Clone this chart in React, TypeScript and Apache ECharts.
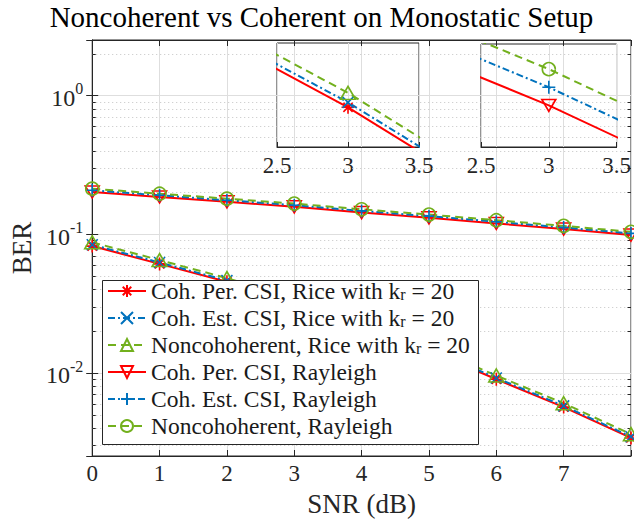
import React, { useEffect, useRef } from 'react';
import * as echarts from 'echarts';

// ---- data ----
const snr = [0, 1, 2, 3, 4, 5, 6, 7, 8];
const ricePerCSI = [0.0820, 0.0610, 0.0453, 0.0326, 0.0223, 0.0145, 0.00898, 0.00566, 0.00339];
const riceEstCSI = [0.0838, 0.0624, 0.0463, 0.0333, 0.0228, 0.0148, 0.00918, 0.00578, 0.00346];
const riceNoncoh = [0.0873, 0.0650, 0.0482, 0.0347, 0.0237, 0.0154, 0.00956, 0.00603, 0.00361];
const rayPerCSI = [0.2016, 0.1855, 0.1709, 0.1573, 0.1432, 0.1312, 0.1194, 0.1087, 0.0985];
const rayEstCSI = [0.2071, 0.1906, 0.1756, 0.1616, 0.1471, 0.1348, 0.1227, 0.1117, 0.1012];
const rayNoncoh = [0.2127, 0.1957, 0.1803, 0.1660, 0.1511, 0.1384, 0.1260, 0.1147, 0.1039];

const seriesNames = [
  'Coh. Per. CSI, Rice with k_r = 20',
  'Coh. Est. CSI, Rice with k_r = 20',
  'Noncohoherent, Rice with k_r = 20',
  'Coh. Per. CSI, Rayleigh',
  'Coh. Est. CSI, Rayleigh',
  'Noncohoherent, Rayleigh',
];
const titleText = 'Noncoherent vs Coherent on Monostatic Setup';
const xName = 'SNR (dB)';
const yName = 'BER';
const yMin = 0.002512; // 10^-2.6
const yMax = 2.512; // 10^0.4
const inset1Y = [0.02746, 0.04305];
const inset2Y = [0.1479, 0.1723];
const minorMultipliers = [2, 3, 4, 5, 6, 7, 8, 9];
const minorDecades = [-3, -2, -1, 0];

const FONT = 'Liberation Serif, Times New Roman, Tinos, DejaVu Serif, serif';
const AXIS = '#262626';
const RED = '#ff0000';
const BLUE = '#0072bd';
const GREEN = '#72b01d';
const GRID = '#dedede';

const SYM_AST = 'path://M12,0 V24 M0,12 H24 M3.5,3.5 L20.5,20.5 M3.5,20.5 L20.5,3.5';
const SYM_X = 'path://M0,0 L12,12 M0,12 L12,0';
const SYM_PLUS = 'path://M6,0 V12 M0,6 H12';
const SYM_TRI_UP = 'path://M6,0 L12,10.4 L0,10.4 Z';
const SYM_TRI_DN = 'path://M0,0 L12,0 L6,10.4 Z';

const DASH = [8, 5];
const DASHDOT = [7, 3, 2, 3];

type Def = { name: string; data: number[]; color: string; dash: any; symbol: string; size: any };
const defs: Def[] = [
  { name: seriesNames[0], data: ricePerCSI, color: RED, dash: 'solid', symbol: SYM_AST, size: 13 },
  { name: seriesNames[1], data: riceEstCSI, color: BLUE, dash: DASHDOT, symbol: SYM_X, size: 11 },
  { name: seriesNames[2], data: riceNoncoh, color: GREEN, dash: DASH, symbol: SYM_TRI_UP, size: [15, 13] },
  { name: seriesNames[3], data: rayPerCSI, color: RED, dash: 'solid', symbol: SYM_TRI_DN, size: [14, 12] },
  { name: seriesNames[4], data: rayEstCSI, color: BLUE, dash: DASHDOT, symbol: SYM_PLUS, size: 13 },
  { name: seriesNames[5], data: rayNoncoh, color: GREEN, dash: DASH, symbol: 'circle', size: 13 },
];

function mkSeries(d: Def, name: string, xi: number, yi: number) {
  return {
    type: 'line',
    name,
    xAxisIndex: xi,
    yAxisIndex: yi,
    data: snr.map((x, i) => [x, d.data[i]]),
    symbol: d.symbol,
    symbolSize: d.size,
    showAllSymbol: true,
    clip: true,
    lineStyle: { color: d.color, width: 2, type: d.dash },
    itemStyle: { color: 'rgba(0,0,0,0)', borderColor: d.color, borderWidth: 1.6 },
    emphasis: { disabled: true },
    silent: true,
    z: 3,
  };
}

export default function App() {
  const ref = useRef<HTMLDivElement>(null);
  useEffect(() => {
    if (!ref.current) return;
    const chart = echarts.init(ref.current, null, { renderer: 'svg' });

    const minorVals: number[][] = [];
    minorDecades.forEach((e) =>
      minorMultipliers.forEach((m) => {
        const v = m * Math.pow(10, e);
        if (v > yMin && v < yMax) minorVals.push([0, v]);
      })
    );

    const axisLabelFont = { fontFamily: FONT, fontSize: 23, color: AXIS };

    const option: any = {
      animation: false,
      backgroundColor: '#ffffff',
      textStyle: { fontFamily: FONT },
      grid: [
        { left: 89, right: 3, top: 40, bottom: 67, show: true, borderColor: AXIS, borderWidth: 1, backgroundColor: 'transparent' },
        { left: 277, top: 43, width: 142, height: 104, show: true, borderColor: AXIS, borderWidth: 1, backgroundColor: 'transparent' },
        { left: 481, top: 44, width: 141, height: 103, show: true, borderColor: AXIS, borderWidth: 1, backgroundColor: 'transparent' },
      ],
      xAxis: [
        {
          type: 'value', gridIndex: 0, min: 0, max: 8, interval: 1,
          name: xName, nameLocation: 'middle', nameGap: 34,
          nameTextStyle: { fontFamily: FONT, fontSize: 27, color: AXIS },
          axisLine: { lineStyle: { color: AXIS, width: 1 } },
          axisTick: { inside: true, length: 6, lineStyle: { color: AXIS } },
          axisLabel: { ...axisLabelFont, margin: 6, formatter: (v: number) => (v === 8 ? '' : String(v)) },
          splitLine: { show: true, lineStyle: { color: GRID, width: 1 } },
        },
        {
          type: 'value', gridIndex: 0, position: 'top', min: 0, max: 8, interval: 1,
          axisLine: { lineStyle: { color: AXIS, width: 1 } },
          axisTick: { inside: true, length: 6, lineStyle: { color: AXIS } },
          axisLabel: { show: false },
          splitLine: { show: false },
        },
        {
          type: 'value', gridIndex: 1, min: 2.5, max: 3.5, interval: 0.5,
          axisLine: { lineStyle: { color: AXIS, width: 1 } },
          axisTick: { inside: true, length: 5, lineStyle: { color: AXIS } },
          axisLabel: { ...axisLabelFont, margin: 7, formatter: (v: number) => String(v) },
          splitLine: { show: true, lineStyle: { color: GRID, width: 1 } },
        },
        {
          type: 'value', gridIndex: 2, min: 2.5, max: 3.5, interval: 0.5,
          axisLine: { lineStyle: { color: AXIS, width: 1 } },
          axisTick: { inside: true, length: 5, lineStyle: { color: AXIS } },
          axisLabel: { ...axisLabelFont, margin: 7, formatter: (v: number) => String(v) },
          splitLine: { show: true, lineStyle: { color: GRID, width: 1 } },
        },
      ],
      yAxis: [
        {
          type: 'log', logBase: 10, gridIndex: 0, min: yMin, max: yMax,
          name: yName, nameLocation: 'middle', nameGap: 38,
          nameTextStyle: { fontFamily: FONT, fontSize: 27, color: AXIS },
          axisLine: { show: true, lineStyle: { color: AXIS, width: 1 } },
          axisTick: { inside: true, length: 6, lineStyle: { color: AXIS } },
          axisLabel: {
            margin: 9,
            fontFamily: FONT,
            formatter: (v: number) => {
              const l = Math.log10(v);
              const e = Math.round(l);
              if (Math.abs(l - e) > 1e-6) return '';
              return `{b|10}{s|${e}}`;
            },
            rich: {
              b: { fontFamily: FONT, fontSize: 24, color: AXIS, lineHeight: 29, verticalAlign: 'bottom' },
              s: { fontFamily: FONT, fontSize: 16, color: AXIS, lineHeight: 16, verticalAlign: 'top' },
            },
          },
          splitLine: { show: true, lineStyle: { color: GRID, width: 1 } },
        },
        {
          type: 'log', logBase: 10, gridIndex: 0, position: 'right', min: yMin, max: yMax,
          axisLine: { show: true, lineStyle: { color: AXIS, width: 1 } },
          axisTick: { inside: true, length: 6, lineStyle: { color: AXIS } },
          axisLabel: { show: false },
          splitLine: { show: false },
        },
        { type: 'log', logBase: 10, gridIndex: 1, min: inset1Y[0], max: inset1Y[1], show: false, splitLine: { show: false } },
        { type: 'log', logBase: 10, gridIndex: 2, min: inset2Y[0], max: inset2Y[1], show: false, splitLine: { show: false } },
      ],
      legend: {
        data: seriesNames,
        orient: 'vertical',
        left: 107,
        top: 279,
        padding: 0,
        itemGap: 3.0,
        itemWidth: 38,
        itemHeight: 15,
        selectedMode: false,
        z: 10,
        formatter: (name: string) => name.replace('k_r', 'k{sub|r}'),
        textStyle: {
          fontFamily: FONT,
          fontSize: 23.5,
          lineHeight: 23,
          color: '#1a1a1a',
          rich: {
            sub: { fontFamily: FONT, fontSize: 16, color: '#1a1a1a', verticalAlign: 'bottom', lineHeight: 16 },
          },
        },
      },
      graphic: [
        {
          type: 'text',
          x: 321.5,
          y: 17,
          silent: true,
          style: {
            text: titleText,
            align: 'center',
            verticalAlign: 'middle',
            fontFamily: FONT,
            fontSize: 29,
            fill: '#000',
          },
        },
        {
          type: 'rect',
          z: 8,
          silent: true,
          shape: { x: 102.5, y: 280.5, width: 376, height: 164 },
          style: { fill: '#ffffff', stroke: AXIS, lineWidth: 1 },
        },
      ],
      series: [
        {
          type: 'custom',
          name: 'minor-grid',
          xAxisIndex: 0,
          yAxisIndex: 0,
          silent: true,
          z: 1,
          data: minorVals,
          renderItem: (params: any, api: any) => {
            const v = api.value(1);
            const a = api.coord([0, v]);
            const b = api.coord([8, v]);
            const y = Math.round(a[1]) + 0.5;
            return {
              type: 'group',
              children: [
                { type: 'line', shape: { x1: a[0], y1: y, x2: b[0], y2: y }, style: { stroke: '#c4c4c4', lineWidth: 1, lineDash: [1, 3] } },
                { type: 'line', shape: { x1: a[0], y1: y, x2: a[0] + 3.5, y2: y }, style: { stroke: AXIS, lineWidth: 1 } },
                { type: 'line', shape: { x1: b[0] - 3.5, y1: y, x2: b[0], y2: y }, style: { stroke: AXIS, lineWidth: 1 } },
              ],
            };
          },
        },
        ...defs.map((d) => mkSeries(d, d.name, 0, 0)),
        ...defs.slice(0, 3).map((d, i) => mkSeries(d, 'inset-rice-' + i, 2, 2)),
        ...defs.slice(3, 6).map((d, i) => mkSeries(d, 'inset-ray-' + i, 3, 3)),
      ],
    };
    chart.setOption(option);
    return () => chart.dispose();
  }, []);
  return <div ref={ref} style={{ position: 'fixed', left: 0, top: 0, width: 634, height: 523 }} />;
}
